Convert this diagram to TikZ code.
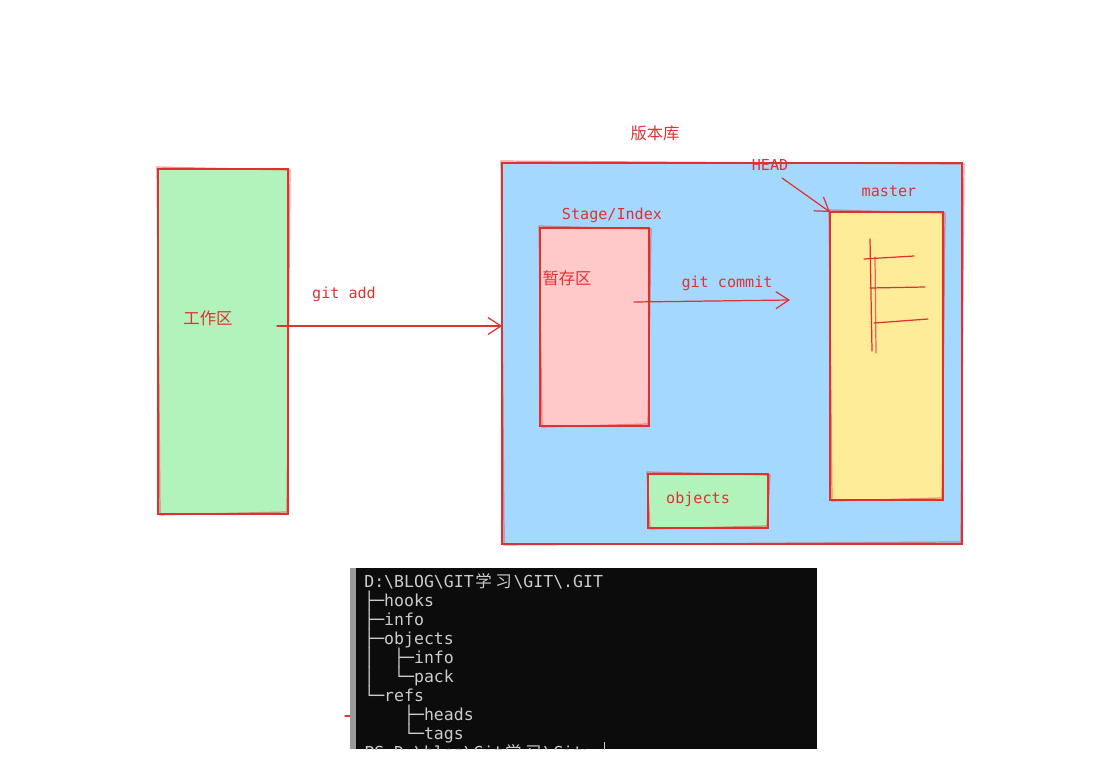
\documentclass[tikz,border=0pt]{standalone}
\usepackage{fontspec}
\setmonofont{DejaVu Sans Mono}
\newfontfamily\cjk{Noto Sans CJK SC}
\usetikzlibrary{calc,arrows.meta}
\definecolor{ink}{HTML}{E03131}
\definecolor{greenfill}{HTML}{B2F2BB}
\definecolor{bluefill}{HTML}{A5D8FF}
\definecolor{pinkfill}{HTML}{FFC9C9}
\definecolor{yellowfill}{HTML}{FFEC99}
\definecolor{termbg}{HTML}{0C0C0C}
\definecolor{termfg}{HTML}{CCCCCC}
\definecolor{termbar}{HTML}{9A9A9A}
\tikzset{
  box/.style={draw=ink, line width=0.7pt, inner sep=0pt, outer sep=0pt},
  edge/.style={draw=ink, line width=0.7pt, line cap=round},
  flow/.style={edge, -{Straight Barb[length=2.6mm,width=3.4mm]}},
  lab/.style={text=ink, font=\ttfamily\fontsize{8.6}{10}\selectfont, inner sep=0pt, yshift=-0.03cm},
  labcn/.style={text=ink, font=\cjk\fontsize{9.3}{11}\selectfont, inner sep=0pt},
  termtxt/.style={text=termfg, font=\ttfamily\fontsize{9.4}{11}\selectfont, anchor=west,
    inner sep=0pt, text height=0.24cm, text depth=0.07cm, yshift=-0.04cm}
}
% second, slightly shifted outline for the hand-drawn look
\newcommand{\Rough}[1]{%
  \draw[edge, opacity=0.5] ($(#1.north west)+(-1,-2)$) -- ($(#1.north east)+(2,1)$)
    -- ($(#1.south east)+(-1,-2)$) -- ($(#1.south west)+(2,1)$) -- cycle;
}
\newcommand{\cell}[1]{\hspace*{#1\fontcharwd\font`0}}
\newcommand{\wide}[1]{\makebox[2\fontcharwd\font`0]{\cjk #1}}

\begin{document}
\begin{tikzpicture}[x=0.02cm, y=-0.02cm]
  \useasboundingbox (0,0) rectangle (1111,777);

  % working tree
  \node[box, fill=greenfill, minimum width=2.6cm, minimum height=6.9cm] (work) at (223,341.5) {};
  \Rough{work}
  \node[labcn] (lblwork) at (208,318) {工作区};

  % repository
  \node[labcn] (lblrepo) at (655,133) {版本库};
  \node[box, fill=bluefill, minimum width=9.2cm, minimum height=7.62cm] (repo) at (732,353.5) {};
  \Rough{repo}

  \node[box, fill=pinkfill, minimum width=2.18cm, minimum height=3.96cm] (stage) at (594.5,327) {};
  \Rough{stage}
  \node[lab] (lblstage) at (612,214) {Stage/Index};
  \node[labcn] (lblstagecn) at (567,278) {暂存区};

  \node[box, fill=yellowfill, minimum width=2.26cm, minimum height=5.76cm] (master) at (886.5,356) {};
  \Rough{master}
  \node[lab] (lblmaster) at (889,190) {master};
  \node[lab] (lblhead) at (770,163) {HEAD};

  \node[box, fill=greenfill, minimum width=2.4cm, minimum height=1.08cm] (objects) at (708,501) {};
  \Rough{objects}
  \node[lab] (lblobjects) at (698,498) {objects};

  % commits in master
  \draw[edge] (870,239) -- (872,351);
  \draw[edge, opacity=0.7] (875,257) -- (876,353);
  \draw[edge] (864,259) -- (914,256);
  \draw[edge] (870,288) -- (925,287);
  \draw[edge] (874,323) -- (928,319);

  % commands
  \coordinate (addfrom) at (277,326);
  \draw[flow] (addfrom) -- (addfrom -| repo.west);
  \node[lab] (lbladd) at (344,293) {git add};

  \coordinate (commitfrom) at (634,302);
  \coordinate (committo) at (790,300);
  \draw[flow] (commitfrom) -- (committo);
  \node[lab] (lblcommit) at (727,282) {git commit};

  \coordinate (headfrom) at (782,178);
  \draw[flow] (headfrom) -- (master.north west);

  % terminal: tree of .git
  \draw[edge] (345,716) -- (350,716);
  \node[fill=termbg, inner sep=0pt, minimum width=9.34cm, minimum height=3.62cm] (term) at (583.5,658.5) {};
  \fill[termbar] (term.north west) rectangle ($(term.south west)+(6,0)$);
  \begin{scope}
    \clip (term.north west) rectangle (term.south east);
    \node[termtxt] (row0) at (364,581) {D:\textbackslash BLOG\textbackslash GIT\wide{学}\wide{习}\textbackslash GIT\textbackslash .GIT};
    \node[termtxt] (row1) at (364,600) {├─hooks};
    \node[termtxt] (row2) at (364,619) {├─info};
    \node[termtxt] (row3) at (364,638) {├─objects};
    \node[termtxt] (row4) at (364,657) {│\cell{2}├─info};
    \node[termtxt] (row5) at (364,676) {│\cell{2}└─pack};
    \node[termtxt] (row6) at (364,695) {└─refs};
    \node[termtxt] (row7) at (364,714) {\cell{4}├─heads};
    \node[termtxt] (row8) at (364,733) {\cell{4}└─tags};
    \node[termtxt] (row9) at (364,752) {PS D:\textbackslash blog\textbackslash Git\wide{学}\wide{习}\textbackslash Git>};
    \draw[termfg, line width=0.5pt] (604,742) -- (604,760);
  \end{scope}
\end{tikzpicture}
\end{document}
